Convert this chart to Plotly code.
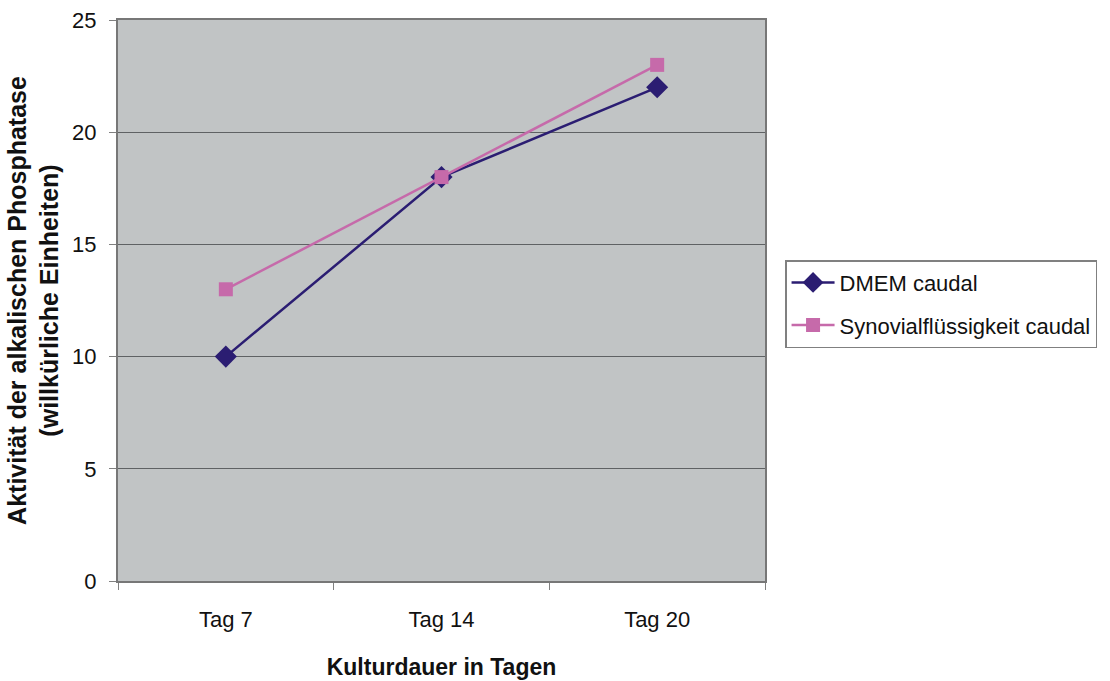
import plotly.graph_objects as go

days = ["Tag 7", "Tag 14", "Tag 20"]
dmem_caudal = [10, 18, 22]
synovial_caudal = [13, 18, 23]
y_ticks = [0, 5, 10, 15, 20, 25]

fig = go.Figure()
fig.add_trace(go.Scatter(
    x=days, y=dmem_caudal, mode="lines+markers", name="DMEM caudal",
    legendgroup="dmem",
    line=dict(color="#2B1D72", width=2.5),
    marker=dict(symbol="diamond", size=17, color="#2B1D72"),
))
fig.add_trace(go.Scatter(
    x=days, y=synovial_caudal, mode="lines+markers", name="Synovialflüssigkeit caudal",
    legendgroup="syn",
    line=dict(color="#C66AAA", width=2.5),
    marker=dict(symbol="square", size=14, color="#C66AAA"),
))

font_family = "Liberation Sans, Arial, sans-serif"
fig.update_layout(
    width=1110, height=681,
    margin=dict(l=118, r=345, t=20, b=100),
    paper_bgcolor="white",
    plot_bgcolor="#C1C4C5",
    font=dict(family=font_family, size=22, color="#111111"),
    showlegend=True,
    legend=dict(
        x=1.031, y=0.572, xanchor="left", yanchor="top",
        bordercolor="#808080", borderwidth=1.5, bgcolor="white",
        font=dict(size=22), tracegroupgap=11, itemwidth=43,
    ),
    xaxis=dict(
        type="category", tickson="boundaries", ticks="outside", ticklen=7,
        tickcolor="#808080", showgrid=False, showline=True, linecolor="#777777",
        linewidth=2, mirror=True, range=[-0.5, 2.5], automargin=False,
        title=dict(text="<b>Kulturdauer in Tagen</b>", font=dict(size=23), standoff=27),
        ticklabelstandoff=18,
    ),
    yaxis=dict(
        range=[0, 25], tickvals=y_ticks, ticks="outside", ticklen=7,
        tickcolor="#808080", showgrid=True, gridcolor="#5F6264", gridwidth=1,
        showline=True, linecolor="#777777", linewidth=2, mirror=True,
        zeroline=False, automargin=False,
        title=dict(text="<b>Aktivität der alkalischen Phosphatase<br>(willkürliche Einheiten)</b>",
                   font=dict(size=25), standoff=6),
        ticklabelstandoff=8,
    ),
)

fig.write_html("out.html")
